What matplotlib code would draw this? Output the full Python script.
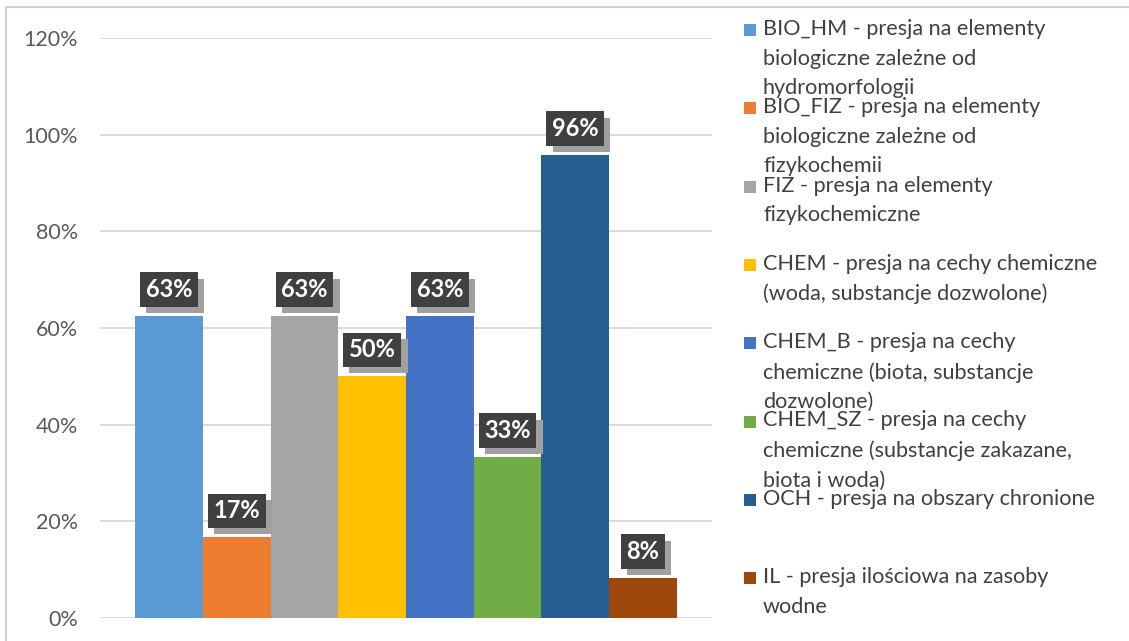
import matplotlib
matplotlib.use("Agg")
import matplotlib.pyplot as plt
import matplotlib.patheffects as pe
from matplotlib.patches import Rectangle
from matplotlib.ticker import PercentFormatter

# data
codes = ["BIO_HM", "BIO_FIZ", "FIZ", "CHEM", "CHEM_B", "CHEM_SZ", "OCH", "IL"]
values = [0.625, 0.167, 0.625, 0.50, 0.625, 0.333, 0.958, 0.083]
labels = ["63%", "17%", "63%", "50%", "63%", "33%", "96%", "8%"]
legend_texts = [
    "BIO_HM - presja na elementy\nbiologiczne zależne od\nhydromorfologii",
    "BIO_FIZ - presja na elementy\nbiologiczne zależne od\nfizykochemii",
    "FIZ - presja na elementy\nfizykochemiczne",
    "CHEM - presja na cechy chemiczne\n(woda, substancje dozwolone)",
    "CHEM_B - presja na cechy\nchemiczne (biota, substancje\ndozwolone)",
    "CHEM_SZ - presja na cechy\nchemiczne (substancje zakazane,\nbiota i woda)",
    "OCH - presja na obszary chronione",
    "IL - presja ilościowa na zasoby\nwodne",
]
colors = ["#5B9BD5", "#ED7D31", "#A5A5A5", "#FFC000",
          "#4472C4", "#70AD47", "#255E91", "#9E480E"]

plt.rcParams['font.family'] = ['Lato', 'DejaVu Sans']

W, H = 1129, 641
fig = plt.figure(figsize=(W / 100, H / 100), dpi=100)
ax = fig.add_axes([100 / W, 1 - 618 / H, 612 / W, 580 / H])

x = range(len(values))
ax.bar(x, values, width=1.0, color=colors, zorder=2)

for xi, v, lab in zip(x, values, labels):
    t = ax.annotate(lab, (xi, v), xytext=(0, 19), textcoords="offset points",
                    ha="center", va="center", color="white", fontsize=17,
                    fontweight="bold", zorder=4,
                    bbox=dict(boxstyle="square,pad=0.24", fc="#404040", ec="none"))
    t.get_bbox_patch().set_path_effects(
        [pe.SimplePatchShadow(offset=(4.5, -4.5), shadow_rgbFace="#a0a0a0", alpha=1.0),
         pe.Normal()])

ax.set_ylim(0, 1.2)
ax.set_xlim(-0.5 - 0.52, len(values) - 0.5 + 0.52)
ax.set_yticks([0, 0.2, 0.4, 0.6, 0.8, 1.0, 1.2])
ax.yaxis.set_major_formatter(PercentFormatter(1.0, decimals=0))
ax.set_xticks([])
ax.tick_params(axis="y", length=0, pad=16, labelsize=15.5, labelcolor="#595959")
ax.grid(axis="y", color="#d9d9d9", linewidth=1.3, zorder=0)
for s in ax.spines.values():
    s.set_visible(False)

# legend drawn by hand to keep the fixed Excel-like row spacing
y0 = 30
step = 78.3
for i, (c, txt) in enumerate(zip(colors, legend_texts)):
    yc = y0 + i * step
    fig.add_artist(Rectangle((744 / W, 1 - (yc + 6) / H), 12 / W, 12 / H,
                             transform=fig.transFigure, fc=c, ec="none"))
    fig.text(763 / W, 1 - (yc - 11) / H, txt, ha="left", va="top",
             fontsize=15.6, color="#404040", linespacing=1.6)

# chart border
fig.add_artist(Rectangle((6 / W, -0.05), 1.2, 1 - 7 / H + 0.05,
                         transform=fig.transFigure, fill=False,
                         ec="#d0d0d0", lw=1.5))

fig.savefig("out.png", dpi=100)
